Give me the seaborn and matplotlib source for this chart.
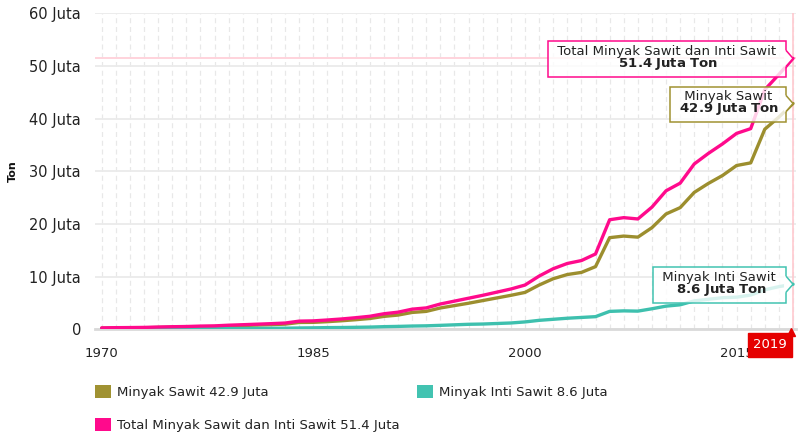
import numpy as np
import pandas as pd
import matplotlib
matplotlib.use("Agg")
import matplotlib.pyplot as plt
import seaborn as sns
from matplotlib.ticker import FuncFormatter, MultipleLocator, FixedLocator
from matplotlib.patches import Patch, Polygon
from matplotlib.transforms import offset_copy, IdentityTransform

# ---------------- data (juta ton) ----------------
years = list(range(1970, 2020))

minyak_sawit = [0.22, 0.25, 0.27, 0.29, 0.35, 0.40, 0.43, 0.50, 0.53, 0.64,
                0.72, 0.80, 0.88, 0.98, 1.30, 1.32, 1.45, 1.62, 1.82, 2.05,
                2.45, 2.70, 3.20, 3.40, 4.05, 4.50, 4.95, 5.45, 5.95, 6.45,
                7.00, 8.40, 9.60, 10.40, 10.80, 11.90, 17.40, 17.70, 17.50, 19.30,
                21.90, 23.10, 26.00, 27.70, 29.20, 31.10, 31.60, 38.00, 40.30, 42.88]

minyak_inti_sawit = [0.05, 0.06, 0.06, 0.07, 0.08, 0.09, 0.10, 0.11, 0.12, 0.14,
                     0.15, 0.17, 0.19, 0.21, 0.25, 0.28, 0.32, 0.34, 0.38, 0.42,
                     0.50, 0.55, 0.62, 0.66, 0.75, 0.85, 0.95, 1.00, 1.10, 1.20,
                     1.40, 1.70, 1.90, 2.10, 2.25, 2.40, 3.40, 3.50, 3.45, 3.90,
                     4.40, 4.65, 5.40, 5.70, 6.00, 6.10, 6.50, 7.50, 8.10, 8.56]

total = [0.27, 0.31, 0.33, 0.36, 0.43, 0.49, 0.53, 0.61, 0.65, 0.78,
         0.87, 0.97, 1.07, 1.19, 1.55, 1.60, 1.77, 1.96, 2.20, 2.47,
         2.95, 3.25, 3.82, 4.06, 4.80, 5.35, 5.90, 6.45, 7.05, 7.65,
         8.40, 10.10, 11.50, 12.50, 13.05, 14.30, 20.80, 21.20, 20.95, 23.20,
         26.30, 27.75, 31.40, 33.40, 35.20, 37.20, 38.10, 45.50, 48.40, 51.44]

series_names = ["Minyak Sawit", "Minyak Inti Sawit", "Total Minyak Sawit dan Inti Sawit"]
legend_labels = ["Minyak Sawit 42.9 Juta", "Minyak Inti Sawit 8.6 Juta",
                 "Total Minyak Sawit dan Inti Sawit 51.4 Juta"]
callout_titles = ["Minyak Sawit", "Minyak Inti Sawit", "Total Minyak Sawit dan Inti Sawit"]
callout_values = ["42.9 Juta Ton", "8.6 Juta Ton", "51.4 Juta Ton"]
x_ticks = [1970, 1985, 2000, 2015]
y_ticks = [0, 10, 20, 30, 40, 50, 60]
current_year = 2019

colors = ["#a09232", "#42c3b1", "#ff0a8c"]
line_colors = ["#9c8e2e", "#3ec0ae", "#ff0a8c"]

# ---------------- build table ----------------
df = pd.DataFrame({
    "Tahun": years * 3,
    "Ton": minyak_sawit + minyak_inti_sawit + total,
    "Seri": [series_names[0]] * len(years) + [series_names[1]] * len(years) + [series_names[2]] * len(years),
})

sns.set_theme(style="white")
plt.rcParams["font.family"] = ["DejaVu Sans"]

fig = plt.figure(figsize=(7.98, 4.32), dpi=100)
ax = fig.add_axes([95 / 798, 1 - 329.3 / 432, (796 - 95) / 798, (329.3 - 13.3) / 432])

# reference lines for the current value
ax.axhline(total[-1], color="#ffd3dc", lw=1.4, zorder=1)
ax.axvline(current_year, color="#ffc9cf", lw=1.2, zorder=1)

sns.lineplot(data=df, x="Tahun", y="Ton", hue="Seri", hue_order=series_names,
             palette=dict(zip(series_names, line_colors)), linewidth=2.4,
             legend=False, ax=ax, zorder=3)

ax.set_xlim(1969.525, 2019.21)
ax.set_ylim(0, 60)
ax.xaxis.set_major_locator(FixedLocator(x_ticks))
ax.xaxis.set_minor_locator(MultipleLocator(1))
ax.yaxis.set_major_locator(FixedLocator(y_ticks))
ax.yaxis.set_major_formatter(FuncFormatter(lambda v, p: "0" if v == 0 else f"{v:.0f} Juta"))

ax.grid(False)
ax.grid(axis="y", which="major", color="#ebebeb", lw=1.3, zorder=0)
ax.grid(axis="x", which="both", color="#e8e8e8", lw=0.9, ls=(0, (4, 3)), zorder=0)
ax.set_axisbelow(True)

for s in ["top", "right", "left"]:
    ax.spines[s].set_visible(False)
ax.spines["bottom"].set_color("#d9d9d9")
ax.spines["bottom"].set_linewidth(2)

ax.tick_params(axis="x", which="major", length=4, width=1, color="#cccccc",
               labelsize=9.5, pad=9, labelcolor="#222222")
ax.tick_params(axis="x", which="minor", length=0)
ax.tick_params(axis="y", which="major", length=0, labelsize=10.5, pad=10, labelcolor="#222222")

ax.set_xlabel("")
ax.set_ylabel("Ton", fontsize=8, fontweight="bold", color="#111111")
ax.yaxis.set_label_coords(-77 / 701, 0.5)

# ---------------- callouts ----------------
fs = 9.5
pad = 0.42
pad_px = pad * fs * 100 / 72
nbsp = "\u00a0"
final_vals = [minyak_sawit[-1], minyak_inti_sawit[-1], total[-1]]
for i in range(3):
    txt = (nbsp + callout_titles[i] + nbsp + "\n" + r"$\mathbf{" + nbsp +
           callout_values[i].replace(" ", r"\ ") + nbsp + "}$")
    ax.annotate(txt, xy=(current_year, final_vals[i]), xytext=(-7 - pad_px, 0),
                textcoords="offset pixels", ha="right", va="center",
                fontsize=fs, color="#222222", multialignment="center",
                linespacing=0.8, zorder=6, annotation_clip=False,
                bbox=dict(boxstyle=f"square,pad={pad}", fc=(1, 1, 1, 0.8), ec=colors[i], lw=1.1))
    px, py = ax.transData.transform((current_year, final_vals[i]))
    fill = Polygon([(px - 9, py + 8), (px - 7, py + 8), (px, py), (px - 7, py - 8), (px - 9, py - 8)],
                   closed=True, transform=IdentityTransform(), fc="white", ec="none", zorder=6.5)
    fig.add_artist(fill)
    edge = Polygon([(px - 7, py + 8), (px, py), (px - 7, py - 8)], closed=False,
                   transform=IdentityTransform(), fill=False, ec=colors[i], lw=1.1, zorder=6.6)
    fig.add_artist(edge)

# current year badge
ax.annotate(str(current_year), xy=(current_year, 0), xytext=(-23, -15.5),
            textcoords="offset pixels", ha="center", va="center", fontsize=9.5,
            color="white", zorder=7, annotation_clip=False,
            bbox=dict(boxstyle="square,pad=0.4", fc="#e50000", ec="#e50000"))
tri = offset_copy(ax.transData, fig=fig, x=-2, y=-3, units="dots")
ax.plot([current_year], [0], marker="^", color="#e50000", markersize=6,
        transform=tri, clip_on=False, zorder=7)

# ---------------- legend ----------------
handles = [Patch(facecolor=colors[0], edgecolor="none"),
           Patch(facecolor=colors[2], edgecolor="none"),
           Patch(facecolor=colors[1], edgecolor="none")]
labels = [legend_labels[0], legend_labels[2], legend_labels[1]]
fig.legend(handles, labels, ncol=2, loc="upper left",
           bbox_to_anchor=(83 / 798, 1 - 373 / 432), frameon=False,
           fontsize=9.5, handlelength=1.2, handleheight=1.2, handletextpad=0.45,
           labelspacing=1.4, columnspacing=1.35, labelcolor="#222222")

fig.savefig("out.png", dpi=100)
